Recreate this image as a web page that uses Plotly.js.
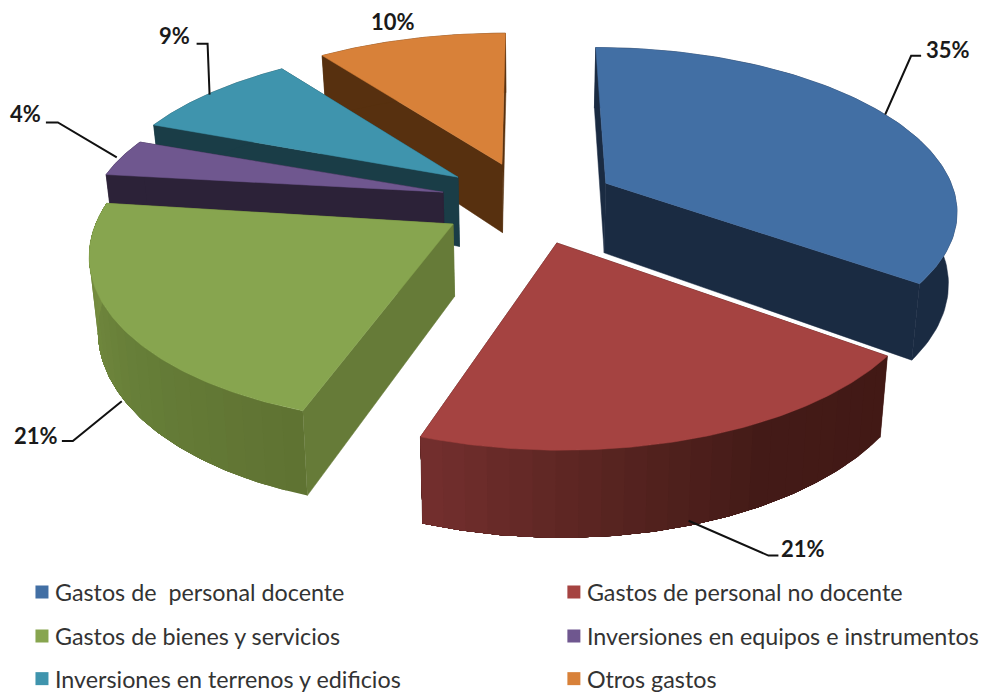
<!DOCTYPE html>
<html>
<head>
<meta charset="utf-8">
<script src="https://cdn.plot.ly/plotly-3.0.1.min.js"></script>
<style>html,body{margin:0;padding:0;background:#fff}</style>
</head>
<body>
<div id="chart" style="width:984px;height:693px"></div>
<script>
// ---- data ----
const categories = ["Gastos de  personal docente","Gastos de personal no docente","Gastos de bienes y servicios","Inversiones en equipos e instrumentos","Inversiones en terrenos y edificios","Otros gastos"];
const shares = [35,21,21,4,9,10];
const topColors = ["#426fa4","#a54341","#87a54f","#6f578f","#3f94ad","#d88139"];
const sideColors = ["#1a2b42","#421915","#667b38","#2c2238","#1a3d47","#57300f"];
// ---- projection of the exploded pie (view parameters) ----
const view = {vx:530, vy:185, rx:345, t:157, p:0.15, h:70, shrink:0.02};
const apexes = [[607,184],[558,244],[454,225],[444,193],[459,178],[503,165]];
const boundaryNudge = [0,0,-2.5,0,0,0]; // degrees, at start of slice
const rxScale = [1.004,1.01,1,1,1.02,1.03];
const vScale = [1,1,1,0.9,0.97,1];
const wallStops = {
  1:[[0,"#421915"],[0.35,"#431a17"],[0.62,"#55231f"],[1,"#742f2e"]],
  2:[[0,"#5f7232"],[0.4,"#667e38"],[0.75,"#72893e"],[1,"#7a9343"]]
};
const drawOrder = [5,4,3,2,0,1];
const labelPos = [[950,50],[805,551],[36,437],[26,114],[175,36],[394,22]];
const leaders = [
  [[887,115],[913,56],[923,56]],
  [[690,523],[770,558],[780,558]],
  [[122,403],[73,443],[62,443]],
  [[117,158],[58,123],[46,123]],
  [[210,95],[208,44],[197,44]]
];
const legendPos = [[15,595],[548,595],[15,639],[548,639],[15,674],[548,674]];
const legendNudge = [0,0,0,0,8,8];
// ---- geometry ----
function hex(c){return [1,3,5].map(i=>parseInt(c.substr(i,2),16));}
function mix(stops,f){
  for(let i=1;i<stops.length;i++){
    if(f<=stops[i][0]){
      const a=stops[i-1],b=stops[i],k=(f-a[0])/(b[0]-a[0]);
      const A=hex(a[1]),B=hex(b[1]);
      return "rgb("+A.map((v,j)=>Math.round(v+(B[j]-v)*k)).join(",")+")";
    }
  }
  return stops[stops.length-1][1];
}
function ground(i){
  const [ax,ay]=apexes[i], dy=ay-view.vy;
  const V=dy/(view.t+view.p*dy), s=1/(1-view.p*V);
  return {U:(ax-view.vx)/s, V:V};
}
function project(U,V){
  const s=1/(1-view.p*V);
  return {x:view.vx+U*s, y:view.vy+view.t*V*s, s:s};
}
function lower(pt){
  return {x:view.vx+(pt.x-view.vx)*(1-view.shrink), y:pt.y+view.h*pt.s};
}
const total=shares.reduce((a,b)=>a+b,0);
let cum=0;
const bounds=shares.map((v,i)=>{const st=cum*360/total+boundaryNudge[i];cum+=v;return st;});
bounds.push(360);
const traces=[];
function poly(pts,color,lw){
  const xs=pts.map(p=>p.x).concat(pts[0].x), ys=pts.map(p=>p.y).concat(pts[0].y);
  traces.push({type:"scatter",mode:"lines",x:xs,y:ys,fill:"toself",fillcolor:color,
    line:{color:color,width:lw},hoverinfo:"skip",showlegend:false});
}
drawOrder.forEach(i=>{
  const g=ground(i), a0=bounds[i], a1=bounds[i+1], N=96;
  const apex=project(g.U,g.V);
  const arc=[];
  for(let k=0;k<=N;k++){
    const th=(a0+(a1-a0)*k/N)*Math.PI/180;
    arc.push(project(g.U+view.rx*rxScale[i]*Math.sin(th), g.V-vScale[i]*Math.cos(th)));
  }
  const bottom=arc.map(lower), apexB=lower(apex);
  poly([apex,arc[N],bottom[N],apexB],sideColors[i],0.5);
  poly([apex,arc[0],bottom[0],apexB],sideColors[i],0.5);
  // outer wall: each band overlaps the rest of the wall, so no seams show
  const stops=wallStops[i], segs=stops?24:1;
  for(let s=0;s<segs;s++){
    const k0=Math.floor(N*s/segs);
    const top=arc.slice(k0), bot=bottom.slice(k0).reverse();
    poly(top.concat(bot), stops?mix(stops,(s+0.5)/segs):sideColors[i],stops?0:0.5);
  }
  poly([apex].concat(arc),topColors[i],0.5);
});
leaders.forEach(l=>{
  traces.push({type:"scatter",mode:"lines",x:l.map(p=>p[0]),y:l.map(p=>p[1]),
    line:{color:"#111111",width:2},hoverinfo:"skip",showlegend:false});
});
const legendNames=["legend","legend2","legend3","legend4","legend5","legend6"];
categories.forEach((c,i)=>{
  traces.push({type:"scatter",mode:"markers",x:[null],y:[null],name:c,legend:legendNames[i],
    marker:{symbol:"square",size:13,color:topColors[i]},showlegend:true});
});
const W=984,H=693;
const layout={
  width:W,height:H,autosize:false,margin:{l:0,r:0,t:0,b:0},
  paper_bgcolor:"#fff",plot_bgcolor:"#fff",hovermode:false,
  xaxis:{range:[0,W],visible:false,fixedrange:true},
  yaxis:{range:[H,0],visible:false,fixedrange:true},
  annotations:shares.map((v,i)=>({x:labelPos[i][0],y:labelPos[i][1],xref:"x",yref:"y",
    text:v+"%",showarrow:false,xanchor:"center",yanchor:"middle",
    font:{family:"Lato, sans-serif",size:22,color:"#1a1a1a",weight:"bold"}}))
};
legendNames.forEach((n,i)=>{
  layout[n]={x:legendPos[i][0]/W,y:1-legendPos[i][1]/H,xanchor:"left",yanchor:"middle",
    bgcolor:"rgba(0,0,0,0)",borderwidth:0,font:{family:"Lato, sans-serif",size:23.3,color:"#333333"}};
});
Plotly.newPlot("chart",traces,layout,{displayModeBar:false,staticPlot:true}).then(()=>{
  document.querySelectorAll(".infolayer .legendpoints").forEach(g=>{
    const t=g.getAttribute("transform")||"";
    g.setAttribute("transform",t+" translate(7,0)");
  });
  legendNames.forEach((n,i)=>{
    const g=document.querySelector(".infolayer g."+n);
    if(g && legendNudge[i]) g.setAttribute("transform",(g.getAttribute("transform")||"")+" translate(0,"+legendNudge[i]+")");
  });
});
</script>
</body>
</html>
